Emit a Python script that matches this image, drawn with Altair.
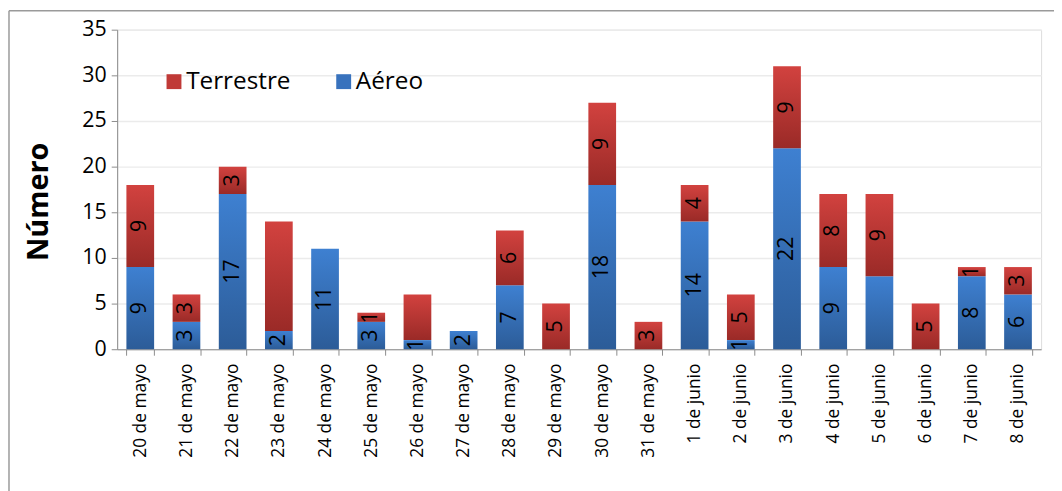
import altair as alt
import pandas as pd

# ---- data ----
fechas = ["20 de mayo", "21 de mayo", "22 de mayo", "23 de mayo", "24 de mayo",
          "25 de mayo", "26 de mayo", "27 de mayo", "28 de mayo", "29 de mayo",
          "30 de mayo", "31 de mayo", "1 de junio", "2 de junio", "3 de junio",
          "4 de junio", "5 de junio", "6 de junio", "7 de junio", "8 de junio"]
aereo = [9, 3, 17, 2, 11, 3, 1, 2, 7, 0, 18, 0, 14, 1, 22, 9, 8, 0, 8, 6]
terrestre = [9, 3, 3, 12, 0, 1, 5, 0, 6, 5, 9, 3, 4, 5, 9, 8, 9, 5, 1, 3]
# whether the data label is shown in the reference
aereo_lbl = [1, 1, 1, 1, 1, 1, 1, 1, 1, 0, 1, 0, 1, 1, 1, 1, 0, 0, 1, 1]
terrestre_lbl = [1, 1, 1, 0, 0, 1, 0, 0, 1, 1, 1, 1, 1, 1, 1, 1, 1, 1, 1, 1]
series = ["Terrestre", "Aéreo"]
y_ticks = [0, 5, 10, 15, 20, 25, 30, 35]

rows = []
for i, f in enumerate(fechas):
    rows.append({"fecha": f, "serie": "Aéreo", "valor": aereo[i], "orden": 0, "lbl": aereo_lbl[i]})
    rows.append({"fecha": f, "serie": "Terrestre", "valor": terrestre[i], "orden": 1, "lbl": terrestre_lbl[i]})
df = pd.DataFrame(rows)

FONT = "Open Sans"
W, H = 931, 322

xenc = alt.X("fecha:N", sort=fechas,
             scale=alt.Scale(paddingInner=0.4, paddingOuter=0.2),
             axis=alt.Axis(title=None, labelAngle=-90, labelFontSize=17.5, labelFont=FONT,
                           labelColor="#000000", labelPadding=8, tickBand="extent",
                           tickSize=6, tickColor="#8c8c8c", domainColor="#8c8c8c",
                           grid=False))

base = alt.Chart(df).transform_stack(
    stack="valor", groupby=["fecha"], as_=["y0", "y1"],
    sort=[alt.SortField("orden", order="ascending")]
).transform_calculate(mid="(datum.y0 + datum.y1) / 2")

yscale = alt.Scale(domain=[0, 35], nice=False)

blue_grad = alt.Gradient(gradient="linear",
                         stops=[alt.GradientStop(color="#3e80d1", offset=0),
                                alt.GradientStop(color="#2c5c98", offset=1)],
                         x1=0, x2=0, y1=0, y2=1)
red_grad = alt.Gradient(gradient="linear",
                        stops=[alt.GradientStop(color="#d2423f", offset=0),
                               alt.GradientStop(color="#9a2a27", offset=1)],
                        x1=0, x2=0, y1=0, y2=1)

y_axis = alt.Axis(title="Número", titleFontSize=29, titleFont=FONT, titleFontWeight="bold",
                  titleColor="#000000", titleAngle=270, titleX=-79, titleY=173,
                  titleAlign="center", titleBaseline="middle",
                  values=y_ticks, labelFontSize=21.5, labelFont=FONT, labelColor="#000000",
                  labelPadding=5, tickSize=6, tickColor="#8c8c8c", domainColor="#8c8c8c",
                  grid=True, gridColor="#ebebeb", gridWidth=1.5)

bars_blue = base.transform_filter("datum.serie == 'Aéreo' && datum.valor > 0").mark_bar(
    color=blue_grad).encode(
    x=xenc,
    y=alt.Y("y0:Q", scale=yscale, axis=y_axis),
    y2="y1:Q")

bars_red = base.transform_filter("datum.serie == 'Terrestre' && datum.valor > 0").mark_bar(
    color=red_grad).encode(
    x=xenc,
    y=alt.Y("y0:Q", scale=yscale),
    y2="y1:Q")

labels = base.transform_filter("datum.lbl == 1 && datum.valor > 0").mark_text(
    angle=270, fontSize=21.5, font=FONT, color="#000000", align="center", baseline="middle"
).encode(x=xenc, y=alt.Y("mid:Q", scale=yscale), text="valor:Q")

legend_layer = base.mark_square(opacity=0, size=1).encode(
    x=xenc,
    y=alt.Y("y1:Q", scale=yscale),
    color=alt.Color("serie:N",
                    scale=alt.Scale(domain=series, range=["#c03a37", "#3872bd"]),
                    legend=alt.Legend(title=None, orient="none", legendX=45, legendY=40,
                                      direction="horizontal", symbolType="square",
                                      symbolSize=225, symbolOpacity=1, symbolStrokeWidth=0,
                                      labelFontSize=24.5, labelFont=FONT, labelColor="#000000",
                                      labelOffset=0, columnPadding=41, padding=0)))

frame_src = pd.DataFrame({"k": [0]})
frame_left = alt.Chart(frame_src).mark_rule(color="#9a9a9a", strokeWidth=1.5).encode(
    x=alt.value(-109), y=alt.value(-19), y2=alt.value(470))
frame_top = alt.Chart(frame_src).mark_rule(color="#9a9a9a", strokeWidth=1.5).encode(
    x=alt.value(-109), x2=alt.value(950), y=alt.value(-19))

chart = alt.layer(bars_blue, bars_red, labels, legend_layer, frame_left, frame_top).properties(
    width=W, height=H,
    autosize=alt.AutoSizeParams(type="none"),
    padding={"left": 110, "top": 20, "right": 13, "bottom": 141}
).configure_view(stroke=None).configure(background="#ffffff")

chart.save("out.html", embed_options={"renderer": "svg", "actions": False})
